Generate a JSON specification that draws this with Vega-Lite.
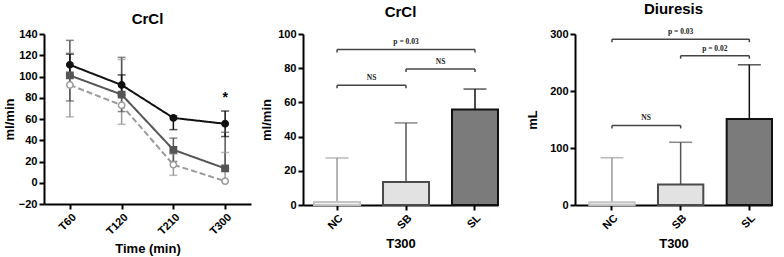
{
  "$schema": "https://vega.github.io/schema/vega-lite/v6.json",
  "background": "white",
  "padding": {"left": 3, "top": 2, "right": 5, "bottom": 2},
  "spacing": 27,
  "config": {
    "view": {"stroke": null},
    "font": "Liberation Sans",
    "axis": {"domainColor": "#000", "domainWidth": 2, "tickColor": "#000", "tickWidth": 2, "tickSize": 5, "labelFont": "Liberation Sans", "labelFontWeight": "bold", "labelFontSize": 11, "labelColor": "#000", "labelOverlap": false, "titleFont": "Liberation Sans", "titleFontWeight": "bold", "titleFontSize": 13, "titleColor": "#000", "grid": false},
    "title": {"font": "Liberation Sans", "fontSize": 15, "fontWeight": "bold", "color": "#000"}
  },
  "datasets": {
    "crcl_bars": [
      {"group": "NC", "value": 1.7, "hi": 27.5},
      {"group": "SB", "value": 13.5, "hi": 48},
      {"group": "SL", "value": 55.8, "hi": 67.8}
    ],
    "crcl_brackets": [
      {"from": "NC", "to": "SL", "value": 91, "mid": "SB", "label": "p = 0.03", "span": 2},
      {"from": "SB", "to": "SL", "value": 79.5, "mid": "SB", "label": "NS", "span": 1},
      {"from": "NC", "to": "SB", "value": 70, "mid": "NC", "label": "NS", "span": 1}
    ],
    "diu_bars": [
      {"group": "NC", "value": 5, "hi": 83},
      {"group": "SB", "value": 36, "hi": 110},
      {"group": "SL", "value": 151, "hi": 246}
    ],
    "diu_brackets": [
      {"from": "NC", "to": "SL", "value": 291, "mid": "SB", "label": "p = 0.03", "span": 2},
      {"from": "SB", "to": "SL", "value": 262, "mid": "SB", "label": "p = 0.02", "span": 1},
      {"from": "NC", "to": "SB", "value": 139.5, "mid": "NC", "label": "NS", "span": 1}
    ]
  },
  "hconcat": [
    {
      "spacing": 9,
      "hconcat": [
        {
          "width": 207, "height": 170,
          "title": {"text": "CrCl", "offset": 1},
          "data": {"values": [
            {"series": "NC", "time": "T60", "value": 92, "lo": 62, "hi": 122},
            {"series": "NC", "time": "T120", "value": 73, "lo": 55, "hi": 116},
            {"series": "NC", "time": "T210", "value": 17, "lo": 7, "hi": 27},
            {"series": "NC", "time": "T300", "value": 1.5, "lo": 1.5, "hi": 28.5},
            {"series": "SB", "time": "T60", "value": 101, "lo": 77, "hi": 134},
            {"series": "SB", "time": "T120", "value": 83, "lo": 67, "hi": 118},
            {"series": "SB", "time": "T210", "value": 31, "lo": 20, "hi": 42},
            {"series": "SB", "time": "T300", "value": 13.5, "lo": 13.5, "hi": 47.5},
            {"series": "SL", "time": "T60", "value": 111, "lo": 101, "hi": 121},
            {"series": "SL", "time": "T120", "value": 92, "lo": 82.5, "hi": 101.5},
            {"series": "SL", "time": "T210", "value": 61, "lo": 50, "hi": 63},
            {"series": "SL", "time": "T300", "value": 55.5, "lo": 43.5, "hi": 67.5}
          ]},
          "encoding": {
            "x": {"field": "time", "type": "ordinal", "sort": ["T60", "T120", "T210", "T300"], "scale": {"type": "point", "padding": 0.5}, "axis": {"labelAngle": -45, "title": "Time (min)", "titlePadding": 6}},
            "y": {"field": "value", "type": "quantitative", "scale": {"domain": [-20, 140], "nice": false}, "axis": {"values": [-20, 0, 20, 40, 60, 80, 100, 120, 140], "tickCount": 9, "labelOverlap": false, "title": "ml/min", "titlePadding": 2}}
          },
          "layer": [
            {
              "mark": {"type": "rule", "strokeWidth": 1.5},
              "encoding": {
                "y": {"field": "lo", "type": "quantitative"},
                "y2": {"field": "hi"},
                "color": {"field": "series", "type": "nominal", "scale": {"domain": ["SL", "SB", "NC"], "range": ["#111111", "#555555", "#9a9a9a"]}, "legend": null}
              }
            },
            {
              "mark": {"type": "tick", "size": 8, "thickness": 1.5},
              "encoding": {
                "y": {"field": "lo", "type": "quantitative"},
                "color": {"field": "series", "type": "nominal", "legend": null}
              }
            },
            {
              "mark": {"type": "tick", "size": 8, "thickness": 1.5},
              "encoding": {
                "y": {"field": "hi", "type": "quantitative"},
                "color": {"field": "series", "type": "nominal", "legend": null}
              }
            },
            {
              "mark": {"type": "line", "strokeWidth": 2},
              "encoding": {
                "color": {"field": "series", "type": "nominal", "legend": null},
                "strokeDash": {"field": "series", "type": "nominal", "scale": {"domain": ["SL", "SB", "NC"], "range": [[1, 0], [1, 0], [6, 3]]}, "legend": null},
                "order": {"field": "series"}
              }
            },
            {
              "mark": {"type": "point", "size": 40, "strokeWidth": 1.5, "opacity": 1},
              "encoding": {
                "shape": {"field": "series", "type": "nominal", "scale": {"domain": ["SL", "SB", "NC"], "range": ["circle", "square", "circle"]}, "legend": null},
                "fill": {"field": "series", "type": "nominal", "scale": {"domain": ["SL", "SB", "NC"], "range": ["#111111", "#555555", "#ffffff"]}, "legend": null},
                "stroke": {"field": "series", "type": "nominal", "scale": {"domain": ["SL", "SB", "NC"], "range": ["#111111", "#555555", "#9a9a9a"]}, "legend": null}
              }
            },
            {
              "data": {"values": [{"time": "T300", "y": 80, "label": "*"}]},
              "mark": {"type": "text", "fontSize": 14, "fontWeight": "bold", "color": "#000"},
              "encoding": {
                "y": {"field": "y", "type": "quantitative"},
                "text": {"field": "label"}
              }
            }
          ]
        },
        {
          "width": 195, "height": 171,
          "title": {"text": "CrCl", "offset": 8},
          "encoding": {
            "y": {"field": "value", "type": "quantitative", "scale": {"domain": [0, 100], "nice": false}, "axis": {"values": [0, 20, 40, 60, 80, 100], "labelOverlap": false, "title": "ml/min", "titlePadding": 4}}
          },
          "layer": [
            {
              "data": {"name": "crcl_bars"},
              "mark": {"type": "rule", "strokeWidth": 1.5},
              "encoding": {
                "x": {"field": "group", "type": "nominal", "sort": ["NC", "SB", "SL"], "scale": {"paddingInner": 0.333, "paddingOuter": 0.08, "align": 1}, "axis": {"labelAngle": -45, "title": "T300", "titlePadding": 6}},
                "y2": {"field": "hi"},
                "color": {"field": "group", "type": "nominal", "scale": {"domain": ["NC", "SB", "SL"], "range": ["#bdbdbd", "#999999", "#555555"]}, "legend": null}
              }
            },
            {
              "data": {"name": "crcl_bars"},
              "mark": {"type": "tick", "size": 23, "thickness": 1.5},
              "encoding": {
                "x": {"field": "group", "type": "nominal"},
                "y": {"field": "hi", "type": "quantitative"},
                "color": {"field": "group", "type": "nominal", "legend": null}
              }
            },
            {
              "data": {"name": "crcl_bars"},
              "transform": [{"filter": "datum.group == 'NC'"}],
              "mark": {"type": "bar", "strokeWidth": 2, "fill": "#f3f3f3", "stroke": "#c4c4c4"},
              "encoding": {"x": {"field": "group", "type": "nominal"}}
            },
            {
              "data": {"name": "crcl_bars"},
              "transform": [{"filter": "datum.group == 'SB'"}],
              "mark": {"type": "bar", "strokeWidth": 2, "fill": "#e2e2e2", "stroke": "#4a4a4a"},
              "encoding": {"x": {"field": "group", "type": "nominal"}}
            },
            {
              "data": {"name": "crcl_bars"},
              "transform": [{"filter": "datum.group == 'SL'"}],
              "mark": {"type": "bar", "strokeWidth": 2, "fill": "#7b7b7b", "stroke": "#111111"},
              "encoding": {"x": {"field": "group", "type": "nominal"}}
            },
            {
              "data": {"name": "crcl_brackets"},
              "mark": {"type": "rule", "strokeWidth": 1.5, "color": "#444"},
              "encoding": {
                "x": {"field": "from", "type": "nominal"},
                "x2": {"field": "to"}
              }
            },
            {
              "data": {"name": "crcl_brackets"},
              "mark": {"type": "rule", "strokeWidth": 1.5, "color": "#444", "y2Offset": 3},
              "encoding": {
                "x": {"field": "from", "type": "nominal"},
                "y2": {"field": "value"}
              }
            },
            {
              "data": {"name": "crcl_brackets"},
              "mark": {"type": "rule", "strokeWidth": 1.5, "color": "#444", "y2Offset": 3},
              "encoding": {
                "x": {"field": "to", "type": "nominal"},
                "y2": {"field": "value"}
              }
            },
            {
              "data": {"name": "crcl_brackets"},
              "transform": [{"filter": "datum.span == 2"}],
              "mark": {"type": "text", "font": "Liberation Serif", "fontSize": 7.5, "fontWeight": "bold", "baseline": "bottom", "dy": -3, "color": "#222"},
              "encoding": {
                "x": {"field": "mid", "type": "nominal"},
                "text": {"field": "label"}
              }
            },
            {
              "data": {"name": "crcl_brackets"},
              "transform": [{"filter": "datum.span == 1"}],
              "mark": {"type": "text", "font": "Liberation Serif", "fontSize": 7.5, "fontWeight": "bold", "baseline": "bottom", "dy": -3, "dx": 11.5, "color": "#222"},
              "encoding": {
                "x": {"field": "mid", "type": "nominal", "bandPosition": 1},
                "text": {"field": "label"}
              }
            }
          ]
        }
      ]
    },
    {
      "width": 197, "height": 171,
      "title": {"text": "Diuresis", "offset": 11},
      "encoding": {
        "y": {"field": "value", "type": "quantitative", "scale": {"domain": [0, 300], "nice": false}, "axis": {"values": [0, 100, 200, 300], "labelOverlap": false, "title": "mL", "titlePadding": 10}}
      },
      "layer": [
        {
          "data": {"name": "diu_bars"},
          "mark": {"type": "rule", "strokeWidth": 1.5},
          "encoding": {
            "x": {"field": "group", "type": "nominal", "sort": ["NC", "SB", "SL"], "scale": {"paddingInner": 0.34, "paddingOuter": 0.104, "align": 1}, "axis": {"labelAngle": -45, "title": "T300", "titlePadding": 6}},
            "y2": {"field": "hi"},
            "color": {"field": "group", "type": "nominal", "scale": {"domain": ["NC", "SB", "SL"], "range": ["#bdbdbd", "#999999", "#555555"]}, "legend": null}
          }
        },
        {
          "data": {"name": "diu_bars"},
          "mark": {"type": "tick", "size": 23, "thickness": 1.5},
          "encoding": {
            "x": {"field": "group", "type": "nominal"},
            "y": {"field": "hi", "type": "quantitative"},
            "color": {"field": "group", "type": "nominal", "legend": null}
          }
        },
        {
          "data": {"name": "diu_bars"},
          "transform": [{"filter": "datum.group == 'NC'"}],
          "mark": {"type": "bar", "strokeWidth": 2, "fill": "#f3f3f3", "stroke": "#c4c4c4"},
          "encoding": {"x": {"field": "group", "type": "nominal"}}
        },
        {
          "data": {"name": "diu_bars"},
          "transform": [{"filter": "datum.group == 'SB'"}],
          "mark": {"type": "bar", "strokeWidth": 2, "fill": "#e2e2e2", "stroke": "#4a4a4a"},
          "encoding": {"x": {"field": "group", "type": "nominal"}}
        },
        {
          "data": {"name": "diu_bars"},
          "transform": [{"filter": "datum.group == 'SL'"}],
          "mark": {"type": "bar", "strokeWidth": 2, "fill": "#7b7b7b", "stroke": "#111111"},
          "encoding": {"x": {"field": "group", "type": "nominal"}}
        },
        {
          "data": {"name": "diu_brackets"},
          "mark": {"type": "rule", "strokeWidth": 1.5, "color": "#444"},
          "encoding": {
            "x": {"field": "from", "type": "nominal"},
            "x2": {"field": "to"}
          }
        },
        {
          "data": {"name": "diu_brackets"},
          "mark": {"type": "rule", "strokeWidth": 1.5, "color": "#444", "y2Offset": 3},
          "encoding": {
            "x": {"field": "from", "type": "nominal"},
            "y2": {"field": "value"}
          }
        },
        {
          "data": {"name": "diu_brackets"},
          "mark": {"type": "rule", "strokeWidth": 1.5, "color": "#444", "y2Offset": 3},
          "encoding": {
            "x": {"field": "to", "type": "nominal"},
            "y2": {"field": "value"}
          }
        },
        {
          "data": {"name": "diu_brackets"},
          "transform": [{"filter": "datum.span == 2"}],
          "mark": {"type": "text", "font": "Liberation Serif", "fontSize": 7.5, "fontWeight": "bold", "baseline": "bottom", "dy": -3, "color": "#222"},
          "encoding": {
            "x": {"field": "mid", "type": "nominal"},
            "text": {"field": "label"}
          }
        },
        {
          "data": {"name": "diu_brackets"},
          "transform": [{"filter": "datum.span == 1"}],
          "mark": {"type": "text", "font": "Liberation Serif", "fontSize": 7.5, "fontWeight": "bold", "baseline": "bottom", "dy": -3, "dx": 11.5, "color": "#222"},
          "encoding": {
            "x": {"field": "mid", "type": "nominal", "bandPosition": 1},
            "text": {"field": "label"}
          }
        }
      ]
    }
  ]
}
